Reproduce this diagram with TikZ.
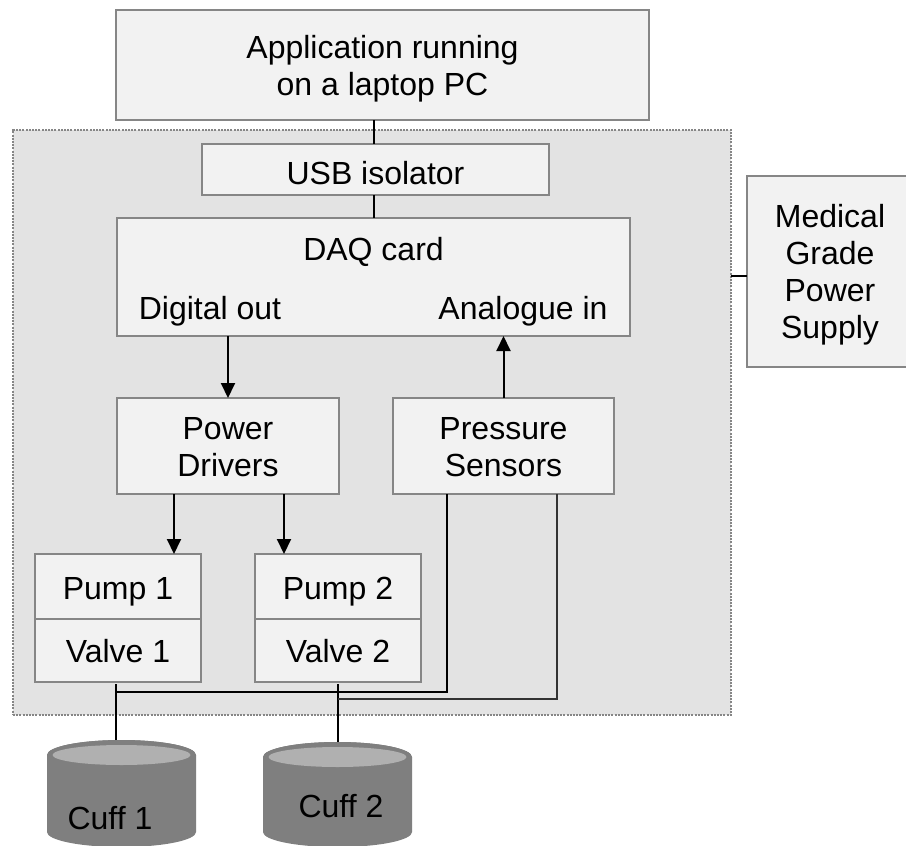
\documentclass[tikz,border=0pt]{standalone}
\usepackage{fontspec}
\setmainfont{Liberation Sans}
\usetikzlibrary{arrows.meta,calc}
\definecolor{boxfill}{HTML}{F2F2F2}
\definecolor{boxline}{HTML}{868686}
\definecolor{panelfill}{HTML}{E3E3E3}
\definecolor{cuffdark}{HTML}{7F7F7F}
\definecolor{cufflight}{HTML}{B0B0B0}
\tikzset{
  base/.style={font=\fontsize{32}{37}\selectfont},
  box/.style={draw=boxline,fill=boxfill,line width=2pt,inner sep=0pt,outer sep=0pt},
  label/.style={base,inner sep=0pt,align=center},
  panel/.style={draw=boxline,fill=panelfill,line width=2pt,dash pattern=on 2pt off 1.2pt,inner sep=0pt,outer sep=0pt},
  wire/.style={draw=black,line width=2pt},
  thinwire/.style={draw=black!80,line width=2pt},
  arrowwire/.style={wire,-{Triangle[length=15pt,width=14pt]}},
  cuffbody/.style={fill=cuffdark,draw=none},
  cufftop/.style={fill=cufflight,draw=none},
}
\begin{document}
\begin{tikzpicture}[x=1pt,y=-1pt]
\useasboundingbox (0,0) rectangle (906,846);
\fill[white] (0,0) rectangle (906,846);
% panel
\node[panel,minimum width=718pt,minimum height=585pt] (panel) at (372,422.5) {};
% boxes
\node[box,minimum width=533pt,minimum height=110pt] (app) at (382.5,65) {};
\node[box,minimum width=347pt,minimum height=51pt] (usb) at (375.5,169.5) {};
\node[box,minimum width=513pt,minimum height=118pt] (daq) at (373.5,277) {};
\node[box,minimum width=222pt,minimum height=96pt] (drv) at (228,446) {};
\node[box,minimum width=221pt,minimum height=96pt] (sens) at (503.5,446) {};
\node[box,minimum width=166pt,minimum height=65pt] (p1) at (118,586.5) {};
\node[box,minimum width=166pt,minimum height=63pt] (v1) at (118,650.5) {};
\node[box,minimum width=166pt,minimum height=65pt] (p2) at (338,586.5) {};
\node[box,minimum width=166pt,minimum height=63pt] (v2) at (338,650.5) {};
\node[box,minimum width=170pt,minimum height=191pt] (psu) at (832,271.5) {};
% texts
\node[label] (appt) at (382.5,69) {Application running\\on a laptop PC};
\node[label] (usbt) at (375.5,173) {USB isolator};
\node[label] (daqt) at (373.5,252) {DAQ card};
\node[label] (dig) at (210,311) {Digital out};
\node[label] (ana) at (523,311) {Analogue in};
\node[label] (drvt) at (228,447) {Power\\Drivers};
\node[label] (senst) at (503.5,447) {Pressure\\Sensors};
\node[label] (p1t) at (118,591.5) {Pump 1};
\node[label] (v1t) at (118,651) {Valve 1};
\node[label] (p2t) at (338,591.5) {Pump 2};
\node[label] (v2t) at (338,651) {Valve 2};
\node[label] (psut) at (830,275) {Medical\\Grade\\Power\\Supply};
% cuffs
\fill[cuffbody] (47,755) arc[start angle=180,end angle=360,x radius=74.5,y radius=15] -- (196,832) arc[start angle=0,end angle=180,x radius=74.5,y radius=15] -- cycle;
\fill[cuffbody] (47,755) arc[start angle=180,end angle=0,x radius=74.5,y radius=15] arc[start angle=360,end angle=180,x radius=74.5,y radius=15] -- cycle;
\fill[cufftop] (121.5,755) ellipse[x radius=69,y radius=10];
\coordinate (cuff1) at (116,740);
\node[label] (c1t) at (110,818) {Cuff 1};
\fill[cuffbody] (263,757) arc[start angle=180,end angle=360,x radius=74.5,y radius=15] -- (412,832) arc[start angle=0,end angle=180,x radius=74.5,y radius=15] -- cycle;
\fill[cuffbody] (263,757) arc[start angle=180,end angle=0,x radius=74.5,y radius=15] arc[start angle=360,end angle=180,x radius=74.5,y radius=15] -- cycle;
\fill[cufftop] (337.5,757) ellipse[x radius=69,y radius=10];
\coordinate (cuff2) at (338,742);
\node[label] (c2t) at (341,806) {Cuff 2};
% connectors
\coordinate (drvl) at ([xshift=-54pt]drv.south);
\coordinate (drvr) at ([xshift=56pt]drv.south);
\coordinate (sl) at ([xshift=-56.5pt]sens.south);
\coordinate (sr) at ([xshift=53.5pt]sens.south);
\coordinate (j1) at (cuff1 |- v1.south);
\coordinate (j2) at (cuff2 |- v2.south);
\coordinate (bus1) at ($(j1)+(0,10)$);
\coordinate (bus2) at ($(j2)+(0,17)$);
\coordinate (j1s) at ($(j1)+(0,2)$);
\coordinate (j2s) at ($(j2)+(0,2)$);
\coordinate (psuw) at ($(psu.west)+(0,4.5)$);
\draw[wire] ([xshift=-8.5pt]app.south) -- ([xshift=-1.5pt]usb.north);
\draw[wire] ([xshift=-1.5pt]usb.south) -- ([xshift=0.5pt]daq.north);
\draw[arrowwire] (daq.south -| drv.north) -- (drv.north);
\draw[arrowwire] (sens.north) -- (sens.north |- daq.south);
\draw[arrowwire] (drvl) -- (drvl |- p1.north);
\draw[arrowwire] (drvr) -- (drvr |- p2.north);
\draw[wire] (j1s) -- (cuff1);
\draw[wire] (j2s) -- (cuff2);
\draw[wire] (sl) |- (bus1);
\draw[thinwire] (sr) |- (bus2);
\draw[wire] (panel.east |- psuw) -- (psuw);
\end{tikzpicture}
\end{document}
